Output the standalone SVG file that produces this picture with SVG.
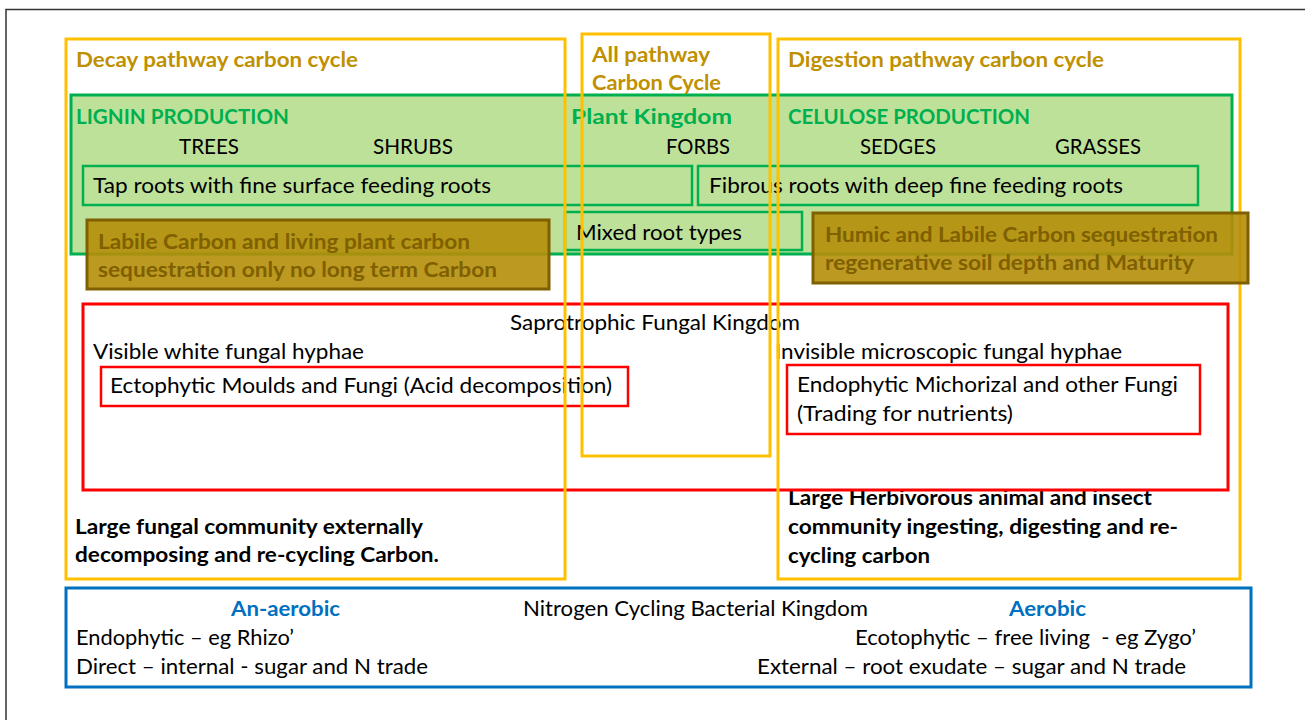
<svg xmlns="http://www.w3.org/2000/svg" width="1305" height="720" viewBox="0 0 1305 720">
<style>
text{font-family:Lato,"Open Sans","Liberation Sans",sans-serif;font-size:21px;fill:#000}
.b{font-weight:bold}
.gold{fill:#BF9000;font-weight:bold}
.grn{fill:#00B050;font-weight:bold}
.brn{fill:#7F6000;font-weight:bold}
.blu{fill:#0070C0;font-weight:bold}
.yel{fill:none;stroke:#FFC000;stroke-width:3}
.gbox{fill:none;stroke:#00B050;stroke-width:2.5}
.rbox{fill:none;stroke:#FF0000;stroke-width:2.5}
.brbox{fill:#B58E08;fill-opacity:0.9;stroke:#7F6000;stroke-width:3}
</style>
<rect x="0" y="0" width="1305" height="720" fill="#fff"/>
<rect x="6" y="9.5" width="1310" height="720" fill="none" stroke="#333" stroke-width="1.5"/>

<g id="herbivore-text">
<text class="b" x="788" y="505" textLength="364" lengthAdjust="spacingAndGlyphs">Large Herbivorous animal and insect</text>
<text class="b" x="788" y="534" textLength="390" lengthAdjust="spacingAndGlyphs">community ingesting, digesting and re-</text>
<text class="b" x="788" y="563" textLength="142" lengthAdjust="spacingAndGlyphs">cycling carbon</text>
</g>
<g id="fungal-text">
<text class="b" x="75" y="534" textLength="348" lengthAdjust="spacingAndGlyphs">Large fungal community externally</text>
<text class="b" x="75" y="562" textLength="364" lengthAdjust="spacingAndGlyphs">decomposing and re-cycling Carbon.</text>
</g>

<g id="fungal-kingdom">
<rect x="83" y="304" width="1145" height="186" fill="#fff" stroke="#FF0000" stroke-width="3"/>
<text x="510" y="330" textLength="290" lengthAdjust="spacingAndGlyphs">Saprotrophic Fungal Kingdom</text>
<text x="93" y="359" textLength="271" lengthAdjust="spacingAndGlyphs">Visible white fungal hyphae</text>
<text x="775" y="359" textLength="347" lengthAdjust="spacingAndGlyphs">Invisible microscopic fungal hyphae</text>
</g>
<g id="ectophytic">
<rect class="rbox" x="101" y="367" width="527" height="39"/>
<text x="110" y="393" textLength="502" lengthAdjust="spacingAndGlyphs">Ectophytic Moulds and Fungi (Acid decomposition)</text>
</g>
<g id="endophytic">
<rect class="rbox" x="787" y="365" width="413" height="69"/>
<text x="797" y="392" textLength="381" lengthAdjust="spacingAndGlyphs">Endophytic Michorizal and other Fungi</text>
<text x="797" y="421" textLength="216" lengthAdjust="spacingAndGlyphs">(Trading for nutrients)</text>
</g>

<g id="plant-kingdom">
<rect x="71" y="95" width="1161" height="159" fill="#BEE199" stroke="#00B050" stroke-width="3"/>
<text class="grn" x="76" y="124" textLength="213" lengthAdjust="spacingAndGlyphs">LIGNIN PRODUCTION</text>
<text class="grn" x="571" y="124" font-size="23" textLength="161" lengthAdjust="spacingAndGlyphs">Plant Kingdom</text>
<text class="grn" x="788" y="124" textLength="242" lengthAdjust="spacingAndGlyphs">CELULOSE PRODUCTION</text>
<text x="179" y="154" textLength="60" lengthAdjust="spacingAndGlyphs">TREES</text>
<text x="373" y="154" textLength="80" lengthAdjust="spacingAndGlyphs">SHRUBS</text>
<text x="666" y="154" textLength="64" lengthAdjust="spacingAndGlyphs">FORBS</text>
<text x="860" y="154" textLength="76" lengthAdjust="spacingAndGlyphs">SEDGES</text>
<text x="1055" y="154" textLength="86" lengthAdjust="spacingAndGlyphs">GRASSES</text>
</g>
<g id="tap-roots">
<rect class="gbox" x="83" y="166" width="609" height="39"/>
<text x="93" y="193" textLength="398" lengthAdjust="spacingAndGlyphs">Tap roots with fine surface feeding roots</text>
</g>
<g id="fibrous-roots">
<rect class="gbox" x="698" y="166" width="500" height="39"/>
<text x="709" y="193" textLength="414" lengthAdjust="spacingAndGlyphs">Fibrous roots with deep fine feeding roots</text>
</g>
<g id="mixed-roots">
<rect class="gbox" x="565" y="212" width="237" height="38"/>
<text x="576" y="240" textLength="166" lengthAdjust="spacingAndGlyphs">Mixed root types</text>
</g>

<g id="decay-pathway">
<rect class="yel" x="66" y="39" width="499" height="540"/>
<text class="gold" x="76" y="67" textLength="282" lengthAdjust="spacingAndGlyphs">Decay pathway carbon cycle</text>
</g>
<g id="all-pathway">
<rect class="yel" x="582" y="34" width="188" height="422"/>
<text class="gold" x="592" y="62" textLength="118" lengthAdjust="spacingAndGlyphs">All pathway</text>
<text class="gold" x="592" y="90" textLength="129" lengthAdjust="spacingAndGlyphs">Carbon Cycle</text>
</g>
<g id="digestion-pathway">
<rect class="yel" x="778" y="39" width="462" height="540"/>
<text class="gold" x="788" y="67" textLength="316" lengthAdjust="spacingAndGlyphs">Digestion pathway carbon cycle</text>
</g>

<g id="labile-carbon">
<rect class="brbox" x="87" y="220" width="462" height="69"/>
<text class="brn" x="98" y="249" textLength="372" lengthAdjust="spacingAndGlyphs">Labile Carbon and living plant carbon</text>
<text class="brn" x="98" y="277" textLength="399" lengthAdjust="spacingAndGlyphs">sequestration only no long term Carbon</text>
</g>
<g id="humic-carbon">
<rect class="brbox" x="813" y="213" width="435" height="70"/>
<text class="brn" x="825" y="242" textLength="393" lengthAdjust="spacingAndGlyphs">Humic and Labile Carbon sequestration</text>
<text class="brn" x="825" y="270" textLength="369" lengthAdjust="spacingAndGlyphs">regenerative soil depth and Maturity</text>
</g>

<g id="bacterial-kingdom">
<rect x="66" y="588" width="1185" height="99" fill="#fff" stroke="#0070C0" stroke-width="3"/>
<text class="blu" x="231" y="616" textLength="109" lengthAdjust="spacingAndGlyphs">An-aerobic</text>
<text x="523" y="616" textLength="345" lengthAdjust="spacingAndGlyphs">Nitrogen Cycling Bacterial Kingdom</text>
<text class="blu" x="1009" y="616" textLength="77" lengthAdjust="spacingAndGlyphs">Aerobic</text>
<text x="76" y="645" textLength="218" lengthAdjust="spacingAndGlyphs">Endophytic – eg Rhizo’</text>
<text x="855" y="645" textLength="341" lengthAdjust="spacingAndGlyphs" xml:space="preserve">Ecotophytic – free living  - eg Zygo’</text>
<text x="76" y="674" textLength="352" lengthAdjust="spacingAndGlyphs">Direct – internal - sugar and N trade</text>
<text x="757" y="674" textLength="429" lengthAdjust="spacingAndGlyphs">External – root exudate – sugar and N trade</text>
</g>
<g id="connectors"/>
</svg>
